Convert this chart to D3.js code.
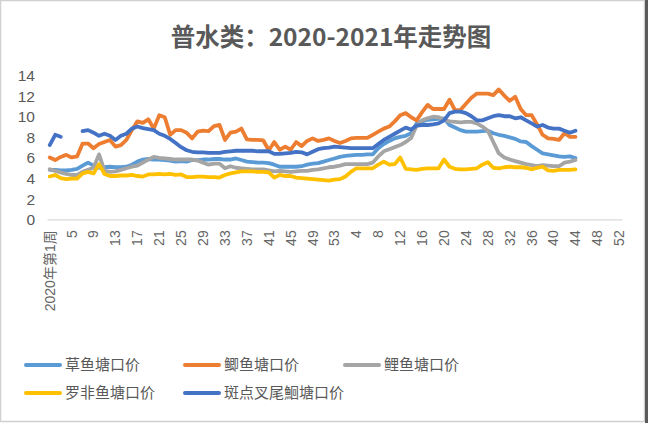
<!DOCTYPE html>
<html><head><meta charset="utf-8">
<script src="https://cdn.jsdelivr.net/npm/d3@7"></script>
<style>
html,body{margin:0;padding:0;background:#fff;}
svg{display:block;}
text{font-family:"Noto Sans CJK SC","Noto Sans",sans-serif;}
</style></head>
<body><svg id="c" width="648" height="423"></svg>
<script>
// categories: 2020 weeks 1-53, 2021 weeks 1-52
const weeks2020 = d3.range(1, 54).map(w => w === 1 ? "2020年第1周" : String(w));
const weeks2021 = d3.range(1, 53).map(w => w === 1 ? "2021年第1周" : String(w));
const categories = weeks2020.concat(weeks2021);
const yTicks = [0, 2, 4, 6, 8, 10, 12, 14];

const grassCarp = [4.8,4.8,4.75,4.75,4.8,4.9,5.2,5.5,5.2,5.0,5.05,5.1,5.05,5.05,5.1,5.3,5.6,5.8,5.85,5.8,5.8,5.75,5.7,5.6,5.65,5.6,5.75,5.75,5.8,5.8,5.85,5.85,5.8,5.8,5.9,5.75,5.6,5.55,5.5,5.5,5.45,5.3,5.1,5.1,5.1,5.1,5.15,5.3,5.4,5.45,5.6,5.75,5.9,6.05,6.15,6.2,6.25,6.25,6.3,6.3,6.9,7.3,7.6,7.85,8.0,8.1,8.35,9.3,9.5,9.65,9.7,9.75,9.8,9.15,8.9,8.65,8.5,8.5,8.5,8.55,8.6,8.35,8.2,8.1,7.95,7.8,7.55,7.5,7.1,6.75,6.4,6.3,6.2,6.1,6.05,6.1,5.95];
const crucian = [6.0,5.75,6.05,6.25,6.0,6.1,7.35,7.35,6.9,7.3,7.5,7.7,7.05,7.2,7.7,8.65,9.5,9.35,9.7,8.8,10.1,9.9,8.2,8.65,8.65,8.4,7.85,8.5,8.6,8.55,9.05,9.15,7.7,8.4,8.5,8.8,7.75,7.7,7.7,7.65,6.7,7.5,6.75,7.05,6.75,7.5,7.1,7.6,7.85,7.6,7.7,7.85,7.6,7.4,7.6,7.85,7.9,7.9,7.9,8.2,8.5,8.8,9.0,9.5,10.1,10.3,9.9,9.6,10.4,11.1,10.7,10.7,10.7,11.6,10.6,10.6,11.2,11.8,12.2,12.2,12.2,12.05,12.6,12.0,11.5,11.9,10.7,10.1,10.1,9.2,8.2,7.85,7.8,7.7,8.35,8.0,8.0];
const carp = [4.85,4.7,4.55,4.4,4.3,4.3,4.6,4.8,5.0,6.3,4.7,4.6,4.65,4.8,4.95,5.1,5.2,5.5,5.8,6.05,5.95,5.9,5.85,5.8,5.8,5.8,5.8,5.7,5.5,5.3,5.4,5.4,4.95,5.15,5.0,4.95,4.9,4.85,4.85,4.85,4.75,4.65,4.7,4.65,4.6,4.65,4.7,4.7,4.8,4.85,4.95,5.05,5.1,5.2,5.35,5.35,5.35,5.35,5.35,5.5,6.1,6.6,6.8,7.0,7.2,7.5,7.9,9.1,9.6,9.8,9.95,9.9,9.65,9.5,9.45,9.4,9.45,9.45,9.3,9.0,8.6,7.5,6.4,6.0,5.8,5.65,5.5,5.35,5.25,5.15,5.25,5.2,5.15,5.15,5.5,5.6,5.75];
const tilapia = [4.15,4.3,4.0,3.9,3.95,3.95,4.45,4.6,4.45,5.35,4.4,4.2,4.2,4.25,4.25,4.3,4.2,4.15,4.35,4.35,4.4,4.35,4.4,4.3,4.35,4.1,4.1,4.15,4.15,4.1,4.1,4.05,4.3,4.45,4.55,4.65,4.65,4.65,4.6,4.6,4.55,4.05,4.3,4.2,4.2,4.05,4.0,3.95,3.9,3.85,3.8,3.75,3.85,3.9,4.15,4.6,4.95,4.95,4.95,4.95,5.3,5.6,5.3,5.35,6.0,4.9,4.85,4.8,4.9,4.95,4.95,4.95,5.8,5.1,4.9,4.85,4.85,4.9,4.95,5.3,5.55,5.0,4.95,5.05,5.1,5.05,5.05,5.0,4.85,5.0,5.1,4.75,4.7,4.8,4.8,4.8,4.85];
const channelCatfish = [7.2,8.2,8.0,null,null,null,8.55,8.65,8.4,8.1,8.3,8.1,7.7,8.1,8.3,8.8,9.0,8.85,8.75,8.65,8.3,8.1,7.8,7.4,7.0,6.7,6.55,6.5,6.5,6.45,6.45,6.45,6.55,6.6,6.65,6.65,6.65,6.65,6.6,6.6,6.6,6.35,6.35,6.4,6.45,6.55,6.5,6.3,6.55,6.8,6.9,6.95,7.05,7.0,6.95,6.9,6.9,6.9,6.9,6.9,7.3,7.7,8.0,8.3,8.6,8.9,8.7,9.1,9.15,9.15,9.2,9.3,9.6,10.3,10.45,10.45,10.3,10.0,9.6,9.6,9.8,10.0,10.1,10.0,10.0,9.8,9.9,9.6,9.3,9.0,9.15,8.9,8.8,8.8,8.6,8.4,8.6];

const seriesNames = ["草鱼塘口价","鲫鱼塘口价","鲤鱼塘口价","罗非鱼塘口价","斑点叉尾鮰塘口价"];
const seriesColors = ["#5B9BD5","#ED7D31","#A5A5A5","#FFC000","#4472C4"];
const seriesData = [grassCarp, crucian, carp, tilapia, channelCatfish];
const drawOrder = [0, 1, 2, 3, 4];

const svg = d3.select("#c");
svg.append("rect").attr("x",0.5).attr("y",0.5).attr("width",644).attr("height",421)
  .attr("fill","#fff").attr("stroke","#d0d0d0").attr("stroke-width",1.5);
svg.append("rect").attr("x",645).attr("y",0).attr("width",3).attr("height",423).attr("fill","#5a5a5a");

svg.append("text").attr("x",331).attr("y",46).attr("text-anchor","middle")
  .attr("font-size",24.5).attr("font-weight","bold").attr("fill","#595959")
  .text("普水类：2020-2021年走势图");

const x = d3.scaleBand().domain(d3.range(categories.length)).range([47, 622]);
const y = d3.scaleLinear().domain([0, 14]).range([219.3, 75]);

const yAxis = d3.axisLeft(y).tickValues(yTicks).tickSize(0).tickPadding(0);
const gy = svg.append("g").attr("transform","translate(35,0)").call(yAxis);
gy.select(".domain").remove();
gy.selectAll("text").attr("font-size",15.5).attr("fill","#595959").attr("dy","0.35em")
  .style("font-family","'Liberation Sans',Arial,sans-serif");

const xAxis = d3.axisBottom(x).tickValues(d3.range(0, categories.length, 4))
  .tickFormat(i => categories[i]).tickSize(0).tickPadding(0);
const gx = svg.append("g").attr("transform","translate(0,219.3)").call(xAxis);
gx.select(".domain").attr("stroke","#d9d9d9").attr("stroke-width",1.3);
gx.selectAll("text").attr("font-size",14).attr("fill","#666")
  .attr("text-anchor","end").attr("transform","rotate(-90)")
  .attr("x",-11).attr("y",0).attr("dy","0.35em")
  .style("font-family","'Liberation Sans',Arial,'Noto Sans CJK SC',sans-serif");

const line = d3.line().defined(d => d != null)
  .x((d, i) => x(i) + x.bandwidth() / 2).y(d => y(d));

drawOrder.forEach(k => {
  svg.append("path").datum(seriesData[k]).attr("fill","none")
    .attr("stroke", seriesColors[k]).attr("stroke-width",3.8)
    .attr("stroke-linejoin","round").attr("stroke-linecap","round")
    .attr("d", line);
});

const legendPos = [[26,365],[185,365],[345,365],[26,393],[185,393]];
seriesNames.forEach((n, k) => {
  const [lx, ly] = legendPos[k];
  svg.append("line").attr("x1",lx).attr("x2",lx+34).attr("y1",ly).attr("y2",ly)
    .attr("stroke",seriesColors[k]).attr("stroke-width",4).attr("stroke-linecap","round");
  svg.append("text").attr("x",lx+39).attr("y",ly).attr("dy","0.36em")
    .attr("font-size",15).attr("fill","#595959").text(n);
});
</script></body></html>
